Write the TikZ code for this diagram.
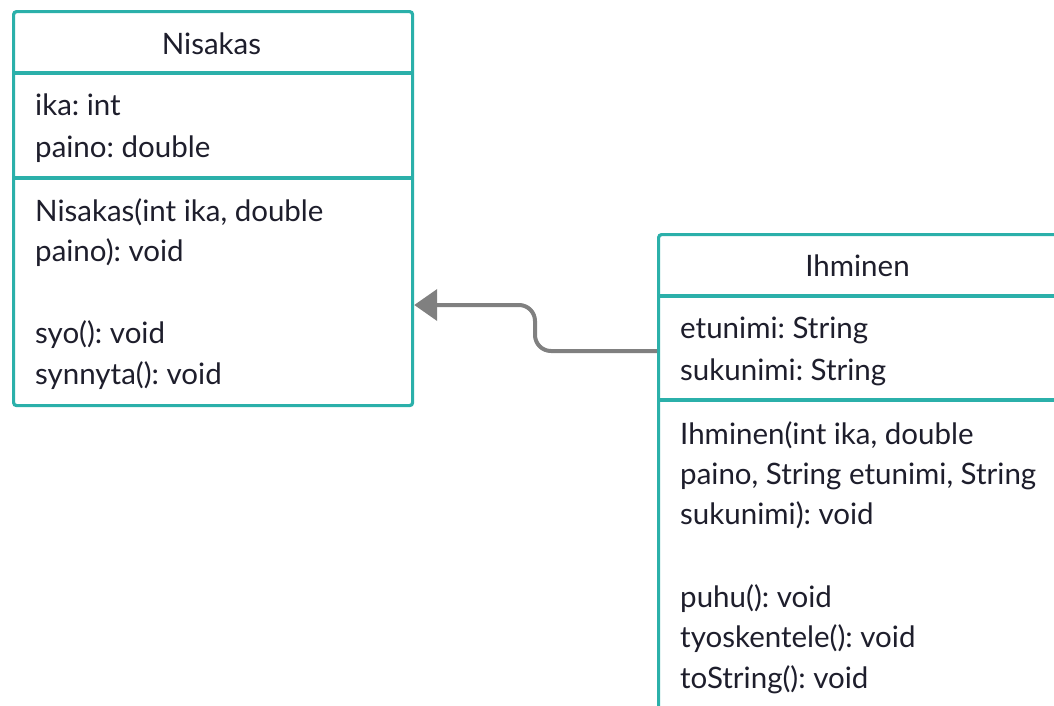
\documentclass[tikz,border=0pt]{standalone}
\usepackage{fontspec}
\setmainfont{Lato}
\usetikzlibrary{arrows.meta}
\definecolor{umlteal}{HTML}{2BB0AA}
\definecolor{ink}{HTML}{1E1E2C}
\definecolor{arrowgray}{HTML}{808080}
\frenchspacing
\begin{document}
\begin{tikzpicture}[x=1pt,y=-1pt,
  box/.style={draw=umlteal, line width=3.2pt, rounded corners=3pt, fill=white, inner sep=0pt, anchor=north west},
  sep/.style={draw=umlteal, line width=3.2pt},
  txt/.style={anchor=base west, inner sep=0pt, text=ink, font=\fontsize{29.5}{34}\selectfont},
  ttl/.style={anchor=base, inner sep=0pt, text=ink, font=\fontsize{29.5}{34}\selectfont},
  arr/.style={draw=arrowgray, line width=4pt, rounded corners=16pt, -{Triangle[length=23pt,width=31pt]}}]
\useasboundingbox (0,0) rectangle (1054,705);
\clip (0,0) rectangle (1054,705);
% Nisakas
\node[box, minimum width=399pt, minimum height=394pt] (nis) at (12,10) {};
\draw[sep] (nis.west |- 0,73) -- (nis.east |- 0,73);
\draw[sep] (nis.west |- 0,178) -- (nis.east |- 0,178);
\node[ttl] (nist) at (211.5,54) {Nisakas};
\node[txt] (nisa1) at (35,115) {ika: int};
\node[txt] (nisa2) at (35,157) {paino: double};
\node[txt] (nism1) at (35,221) {Nisakas(int ika, double};
\node[txt] (nism2) at (35,261) {paino): void};
\node[txt] (nism3) at (35,343) {syo(): void};
\node[txt] (nism4) at (35,384) {synnyta(): void};
% Ihminen
\node[box, minimum width=402pt, minimum height=520pt] (ihm) at (657,233) {};
\draw[sep] (ihm.west |- 0,296) -- (ihm.east |- 0,296);
\draw[sep] (ihm.west |- 0,400) -- (ihm.east |- 0,400);
\node[ttl] (ihmt) at (857.5,276) {Ihminen};
\node[txt] (ihma1) at (680,338) {etunimi: String};
\node[txt] (ihma2) at (680,380) {sukunimi: String};
\node[txt] (ihmm1) at (680,444) {Ihminen(int ika, double};
\node[txt] (ihmm2) at (680,484) {paino, String etunimi, String};
\node[txt] (ihmm3) at (680,524) {sukunimi): void};
\node[txt] (ihmm4) at (680,607) {puhu(): void};
\node[txt] (ihmm5) at (680,647) {tyoskentele(): void};
\node[txt] (ihmm6) at (680,688) {toString(): void};
% inheritance
\coordinate (s) at (ihm.west |- 0,351);
\coordinate (t) at (nis.east |- 0,305);
\draw[arr] (s) -- (535,351) -- (535,305) -- (t);
\end{tikzpicture}
\end{document}
